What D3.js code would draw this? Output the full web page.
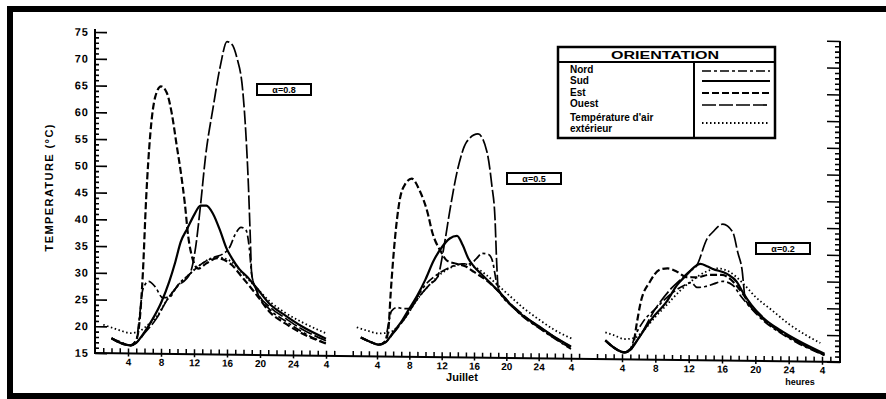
<!DOCTYPE html>
<html><head><meta charset="utf-8">
<script src="https://cdn.jsdelivr.net/npm/d3@7"></script>
<style>
html,body{margin:0;padding:0;background:#fff;}
svg{display:block;font-family:"Liberation Sans",Arial,sans-serif;}
</style></head>
<body><svg id="c" width="886" height="399"></svg>
<script>
// ---------- DATA ----------
const yTicks = [15,20,25,30,35,40,45,50,55,60,65,70,75];
const hourTicks = [4,8,12,16,20,24,28];
const hourTickLabels = ["4","8","12","16","20","24","4"];
const panelLabels = ["\u03B1=0.8","\u03B1=0.5","\u03B1=0.2"];
const seriesNames = ["Nord","Sud","Est","Ouest","Température d'air extérieur"];

// Panel 1 (alpha = 0.8) : [hour, °C]
const p1Nord  = [[2,17.8],[3,17.2],[4.3,16.5],[5,17.5],[5.4,22],[5.8,27],[6.5,28.5],[7.3,27.5],[8.2,25.5],[9,25.6],[10,27.8],[11.5,30],[13,32],[14.5,33.2],[15.5,33.8],[16.3,35],[17,37.5],[17.7,38.8],[18.3,38.3],[18.7,35],[19,30],[19.6,27],[21.2,23.5],[23,21.5],[25,19.5],[28,17.3]];
const p1Sud   = [[2,17.8],[3,17],[4.3,16.5],[5,17],[6,19],[7,21.5],[8,24.5],[9,28.5],[9.7,32],[10.4,36],[11.2,38.5],[12,41],[12.8,42.8],[13.5,42.8],[14.3,41.3],[15.2,38],[15.9,35],[16.6,33],[17.5,31],[18.5,29.5],[19.6,27.5],[21.2,24.5],[23,22.5],[25,20.5],[28,18.2]];
const p1Est   = [[2,17.8],[3,17],[4.3,16.5],[5,17.5],[5.4,21],[5.8,30],[6.2,44],[6.7,56],[7.3,63],[8,65],[8.7,63.8],[9.3,60],[9.9,54],[10.4,49],[10.9,43],[11.3,37],[11.8,33],[12.5,31],[13.5,32],[14.8,33],[16.4,32],[18,29.2],[19.6,26.2],[21.2,23],[23,21],[25,19.2],[28,17.3]];
const p1Ouest = [[2,17.8],[3,17],[4.3,16.5],[5,17],[6,18.8],[7.5,21.7],[8.7,25],[9.9,27.5],[11.5,30],[12.2,35],[12.8,43],[13.4,52],[14.3,61],[15.2,69],[16,73.5],[16.6,73],[17.2,70.5],[17.9,64.5],[18.3,56],[18.6,46.5],[18.8,38],[19,30],[19.6,27],[21.2,24],[23,22],[25,20],[28,17.8]];
const p1Air   = [[1,20.3],[2,19.8],[3,19.3],[4.3,18.8],[5.5,19.3],[6.5,20.5],[7.5,22],[8.7,25],[9.9,27.5],[11.5,30],[13,32],[14.8,33.2],[16.4,32.5],[18,30],[19.6,27.5],[21.2,25],[23,23],[25,21.3],[28,19.2]];

// Panel 2 (alpha = 0.5)
const p2Nord  = [[2,18.5],[3,17.8],[4.2,17.2],[5,17.8],[5.4,21],[5.8,23.5],[6.5,24.2],[7.2,24],[8,24],[9,26.3],[10,28.5],[11.5,30.5],[13,31.8],[14.6,32.5],[15.5,32.5],[16.3,33.5],[17,34.5],[17.8,34.3],[18.3,33],[18.8,29],[19.3,27],[20.5,25],[22,22.8],[24,20.7],[26,18.7],[28,16.8]];
const p2Sud   = [[2,18.5],[3,17.8],[4.2,17.2],[5,17.6],[6,19.5],[7,21.5],[8,24],[9,26.5],[10,29.5],[11,33],[12,35.5],[13,37.2],[13.9,37.7],[14.6,36],[15.3,33.5],[16,32],[17,30.5],[18,29],[19,27.5],[20.5,25],[22,23],[24,21],[26,19],[28,17.3]];
const p2Est   = [[2,18.5],[3,17.8],[4.2,17.2],[5,17.8],[5.4,20],[5.7,27],[6.2,36.7],[6.8,44.2],[7.5,47.3],[8.3,48.3],[9.3,46],[10.2,42.3],[10.9,38],[11.8,35],[12.7,33],[13.8,32.5],[15,32],[16,31],[17.5,29.5],[19,27.5],[20.5,25],[22,23],[24,20.8],[26,18.8],[28,17]];
const p2Ouest = [[2,18.5],[3,17.8],[4.2,17.2],[5,17.6],[6,19.3],[7.5,22.3],[9,25.8],[10.5,28.5],[11.5,30],[12.4,36.7],[13,42.3],[14,50.3],[15.1,55.3],[16.5,56.8],[17.6,53.5],[18.2,47.3],[18.6,41],[18.8,33],[19,28],[20,26],[22,23.2],[24,21],[26,19],[28,17.2]];
const p2Air   = [[1.5,20.4],[3,19.7],[4.2,19.3],[5.5,19.5],[6.5,20.5],[7.5,22.3],[9,25.8],[10.5,28.5],[12,30.7],[13.5,32],[14.6,32.5],[16,32],[17.5,30.5],[19,28.5],[20.5,26.5],[22,24.5],[24,22.3],[26,20.3],[28.2,18.7]];

// Panel 3 (alpha = 0.2)
const p3Nord  = [[2,18.5],[3,17.2],[4.3,16.3],[5,17],[5.6,19.5],[6.5,22],[8,24.5],[10,27.5],[11.5,29],[12.3,29.5],[13,28.6],[14,28.8],[15,29.3],[16.1,29.8],[17.3,29.1],[18.2,27.2],[19.5,24.8],[21,22.5],[23,20.3],[25,18.5],[28.3,16.2]];
const p3Sud   = [[2,18.5],[3,17.2],[4.3,16.3],[5,16.8],[6,19],[7.5,22.5],[9.4,26],[10.6,29],[11.8,31],[12.6,32.3],[13.4,33],[14.2,32.6],[14.9,32.1],[16.6,31.2],[17.8,29.7],[18.5,27.8],[19.5,25.5],[21,23],[23,20.8],[25,19],[28.3,16.5]];
const p3Est   = [[2,18.5],[3,17.2],[4.3,16.3],[5,16.8],[5.3,17.5],[5.8,22],[6.2,25.4],[7.4,29.7],[8.6,31.9],[9.5,32.1],[10.6,31.5],[11.8,30.5],[13,30.5],[14.5,31],[16,31],[17.3,29.8],[18.5,27.5],[19.5,25.3],[21,22.8],[23,20.5],[25,18.7],[28.3,16.3]];
const p3Ouest = [[2,18.5],[3,17.2],[4.3,16.3],[5,17],[6,19],[8,24.5],[10,28.5],[11,30],[12,31.5],[13,32.8],[14.2,37.7],[14.9,39],[16.1,40.5],[17.3,39],[17.9,35.2],[18.4,32.1],[18.8,26.5],[19.5,25],[21,22.8],[23,20.5],[25,18.7],[28.3,16.2]];
const p3Air   = [[2,20],[3,19.5],[4.3,18.8],[5.5,19],[6.5,20.3],[8,23],[9.5,25.5],[11,28],[12.5,30],[14,31.5],[15.5,32.2],[17,31.5],[18.5,29.5],[20,27],[22,24.5],[24,22],[26,20],[27.8,18.5]];

// ---------- LAYOUT / STYLE ----------
const styles = [
  {dash:"9,3,3,3", w:1.7},   // Nord
  {dash:null,      w:2.2},   // Sud
  {dash:"7,3",     w:2.2},   // Est
  {dash:"14,3",    w:1.7},   // Ouest
  {dash:"1.5,2.5", w:1.8}    // Air
];
const panels = [
  {series:[p1Nord,p1Sud,p1Est,p1Ouest,p1Air], range:[128,326], label:panelLabels[0], box:[257,84]},
  {series:[p2Nord,p2Sud,p2Est,p2Ouest,p2Air], range:[377,571], label:panelLabels[1], box:[507,173]},
  {series:[p3Nord,p3Sud,p3Est,p3Ouest,p3Air], range:[622,822], label:panelLabels[2], box:[756,243]}
];

const svg = d3.select("#c");
svg.append("rect").attr("width",886).attr("height",399).attr("fill","#fff");
// frame
svg.append("rect").attr("x",10).attr("y",9).attr("width",900).attr("height",387)
  .attr("fill","none").attr("stroke","#000").attr("stroke-width",6);

const X0 = 95, X1 = 840, k = 0.012;
const g = svg.append("g").attr("transform",`matrix(1,${k},0,1,0,${-X0*k})`);
const y = d3.scaleLinear().domain([15,75]).range([353,32]);

// left axis
g.append("line").attr("x1",X0).attr("x2",X0).attr("y1",29).attr("y2",354).attr("stroke","#000").attr("stroke-width",2);
const minorVals = d3.range(15,76).filter(v=>v%5!==0);
const la1 = g.append("g").attr("transform",`translate(${X0},0)`)
  .call(d3.axisRight(y).tickValues(minorVals).tickSize(4).tickFormat(""));
const la2 = g.append("g").attr("transform",`translate(${X0},0)`)
  .call(d3.axisRight(y).tickValues(yTicks).tickSize(12).tickFormat(""));
const la3 = g.append("g").attr("transform",`translate(${X0},0)`)
  .call(d3.axisLeft(y).tickValues(yTicks).tickSize(0).tickPadding(6).tickFormat(d=>d));
// right axis
g.append("line").attr("x1",X1).attr("x2",X1).attr("y1",32).attr("y2",354).attr("stroke","#000").attr("stroke-width",2);
const ra1 = g.append("g").attr("transform",`translate(${X1},0)`)
  .call(d3.axisLeft(y).tickValues(minorVals).tickSize(5).tickFormat(""));
const ra2 = g.append("g").attr("transform",`translate(${X1},0)`)
  .call(d3.axisLeft(y).tickValues(yTicks).tickSize(13).tickFormat(""));
[la1,la2,la3,ra1,ra2].forEach(a=>{
  a.select(".domain").remove();
  a.selectAll("line").attr("stroke","#000").attr("stroke-width",1.6);
});
la3.selectAll("text").attr("font-size",11).attr("font-weight","bold").attr("fill","#000").attr("letter-spacing",1);

// baseline
g.append("line").attr("x1",X0).attr("x2",X1).attr("y1",y(15)).attr("y2",y(15)).attr("stroke","#000").attr("stroke-width",2);

panels.forEach(p=>{
  const x = d3.scaleLinear().domain([4,28]).range(p.range);
  const t1 = g.append("g").attr("transform",`translate(0,${y(15)})`)
    .call(d3.axisTop(x).tickValues(d3.range(1,30)).tickSize(5).tickFormat(""));
  const t2 = g.append("g").attr("transform",`translate(0,${y(15)})`)
    .call(d3.axisBottom(x).tickValues(hourTicks).tickSize(3).tickPadding(2)
      .tickFormat((d,i)=>hourTickLabels[i]));
  [t1,t2].forEach(a=>{
    a.select(".domain").remove();
    a.selectAll("line").attr("stroke","#000").attr("stroke-width",1.5);
  });
  t2.selectAll("text").attr("font-size",10).attr("font-weight","bold").attr("fill","#000");

  const line = d3.line().x(d=>x(d[0])).y(d=>y(d[1])).curve(d3.curveMonotoneX);
  p.series.forEach((s,i)=>{
    g.append("path").attr("d",line(s)).attr("fill","none").attr("stroke","#000")
      .attr("stroke-width",styles[i].w)
      .attr("stroke-dasharray",styles[i].dash)
      .attr("stroke-linejoin","round");
  });

  // alpha label box (absolute)
  svg.append("rect").attr("x",p.box[0]).attr("y",p.box[1]).attr("width",54).attr("height",11)
    .attr("fill","#fff").attr("stroke","#000").attr("stroke-width",2);
  svg.append("text").attr("x",p.box[0]+27).attr("y",p.box[1]+9).attr("text-anchor","middle")
    .attr("font-size",9).attr("font-weight","bold").text(p.label);
});

// axis titles
svg.append("text").attr("transform","translate(53,188) rotate(-90)").attr("text-anchor","middle")
  .attr("font-size",11).attr("font-weight","bold").attr("textLength",127).attr("lengthAdjust","spacing")
  .text("TEMPERATURE (°C)");
svg.append("text").attr("x",462).attr("y",381).attr("text-anchor","middle")
  .attr("font-size",11).attr("font-weight","bold").text("Juillet");
svg.append("text").attr("x",800).attr("y",385).attr("text-anchor","middle")
  .attr("font-size",9).attr("font-weight","bold").text("heures");

// legend
const L = svg.append("g");
L.append("rect").attr("x",558).attr("y",47).attr("width",217).attr("height",91)
  .attr("fill","#fff").attr("stroke","#000").attr("stroke-width",2.5);
L.append("line").attr("x1",558).attr("x2",775).attr("y1",62).attr("y2",62).attr("stroke","#000").attr("stroke-width",2);
L.append("line").attr("x1",694).attr("x2",694).attr("y1",62).attr("y2",138).attr("stroke","#000").attr("stroke-width",2);
L.append("text").attr("x",665).attr("y",59).attr("text-anchor","middle").attr("font-size",11)
  .attr("font-weight","900").attr("textLength",108).attr("lengthAdjust","spacingAndGlyphs").text("ORIENTATION");
const labY = [73,84,96,107];
seriesNames.slice(0,4).forEach((n,i)=>{
  L.append("text").attr("x",570).attr("y",labY[i]).attr("font-size",10).attr("font-weight","bold").text(n);
});
L.append("text").attr("x",570).attr("y",121).attr("font-size",10).attr("font-weight","bold").text("Température d'air");
L.append("text").attr("x",570).attr("y",132).attr("font-size",10).attr("font-weight","bold").text("extérieur");
const sampY = [71,81,93,105,123];
styles.forEach((s,i)=>{
  L.append("line").attr("x1",702).attr("x2",770).attr("y1",sampY[i]).attr("y2",sampY[i])
    .attr("stroke","#000").attr("stroke-width",s.w).attr("stroke-dasharray",s.dash);
});
</script></body></html>
